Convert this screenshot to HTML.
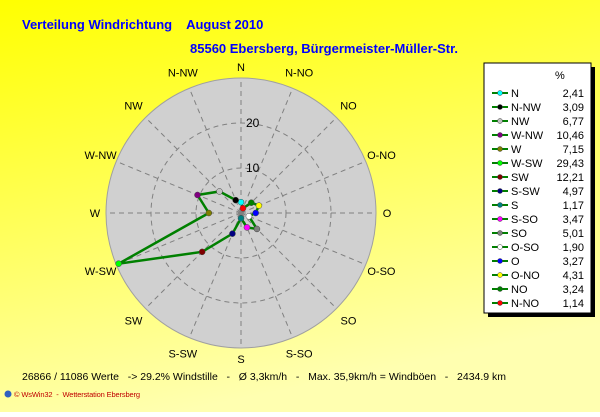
<!DOCTYPE html>
<html><head><meta charset="utf-8"><style>
html,body{margin:0;padding:0}
body{width:600px;height:412px;overflow:hidden;font-family:"Liberation Sans",sans-serif}
</style></head><body>
<svg id="c" width="600" height="412" xmlns="http://www.w3.org/2000/svg">
<defs><linearGradient id="bg" x1="0" y1="0" x2="0.3" y2="1"><stop offset="0" stop-color="#ffff00"/><stop offset="1" stop-color="#ffffb0"/></linearGradient></defs>
<rect width="600" height="412" fill="url(#bg)"/>
<text x="22" y="29" font-size="13" font-weight="bold" fill="#0000ff" xml:space="preserve">Verteilung Windrichtung    August 2010</text>
<text x="190" y="53" font-size="13" font-weight="bold" fill="#0000ff">85560 Ebersberg, Bürgermeister-Müller-Str.</text>
<g id="plot"></g>
<g id="legend">
<rect x="488" y="67" width="107" height="250" fill="#000"/>
<rect x="484" y="63" width="107" height="250" fill="#fff" stroke="#000"/>
<text x="555" y="79" font-size="11" fill="#000">%</text>
</g>
<text x="22" y="380" font-size="10.5" fill="#000" textLength="484" xml:space="preserve">26866 / 11086 Werte   -&gt; 29.2% Windstille   -   Ø 3,3km/h   -   Max. 35,9km/h = Windböen   -   2434.9 km</text>
<circle cx="8" cy="394" r="3.5" fill="#3060c0"/>
<text x="14" y="397" font-size="7.5" fill="#c00000" textLength="126" xml:space="preserve">© WsWin32  -  Wetterstation Ebersberg</text>
</svg>
<script>
const directions=["N","N-NW","NW","W-NW","W","W-SW","SW","S-SW","S","S-SO","SO","O-SO","O","O-NO","NO","N-NO"];
const angles=[0,337.5,315,292.5,270,247.5,225,202.5,180,157.5,135,112.5,90,67.5,45,22.5];
const values=[2.41,3.09,6.77,10.46,7.15,29.43,12.21,4.97,1.17,3.47,5.01,1.90,3.27,4.31,3.24,1.14];
const valueLabels=["2,41","3,09","6,77","10,46","7,15","29,43","12,21","4,97","1,17","3,47","5,01","1,90","3,27","4,31","3,24","1,14"];
const colors=["#00ffff","#000000","#c0c0c0","#800080","#808000","#00ff00","#800000","#000080","#008080","#ff00ff","#808080","#ffffff","#0000ff","#ffff00","#008000","#ff0000"];
const ringTicks=[10,20];
const rMax=30;
const NS="http://www.w3.org/2000/svg";
const cx=241,cy=213,R=135;
function rs(v){return v/rMax*R;}
function pt(a,v){const t=a*Math.PI/180;return [cx+rs(v)*Math.sin(t),cy-rs(v)*Math.cos(t)];}
function mk(tag,attrs,parent){const e=document.createElementNS(NS,tag);for(const k in attrs)e.setAttribute(k,attrs[k]);parent.appendChild(e);return e;}
const plot=document.getElementById('plot');
let e=mk('circle',{cx:cx,cy:cy,r:R,fill:'#d0d0d0',stroke:'#a0a0a0'},plot);


for(let i=0;i<16;i++){const p=pt(i*22.5,rMax);e=mk('line',{x1:cx,y1:cy,x2:p[0],y2:p[1],stroke:'#808080','stroke-dasharray':'5,4'},plot);

}
ringTicks.forEach(t=>{e=mk('circle',{cx:cx,cy:cy,r:rs(t),fill:'none',stroke:'#808080','stroke-dasharray':'5,4'},plot);


e=mk('text',{x:cx+5,y:cy-rs(t)+4,'font-size':12,fill:'#000'},plot);e.textContent=t;

});
directions.forEach((d,i)=>{const a=angles[i];const t=a*Math.PI/180;const r=(a%90===0)?146:152;
const x=cx+r*Math.sin(t),y=cy-r*Math.cos(t)+4;
e=mk('text',{x:x,y:y,'font-size':11,fill:'#000','text-anchor':'middle'},plot);e.textContent=d;

});
const pts=values.map((v,i)=>pt(angles[i],v));
e=mk('polygon',{points:pts.map(p=>p.join(',')).join(' '),fill:'none',stroke:'#008000','stroke-width':2.5},plot);


pts.forEach((p,i)=>{e=mk('circle',{cx:p[0],cy:p[1],r:3,fill:colors[i],stroke:'#404040','stroke-width':0.5},plot);

});
const lg=document.getElementById('legend');
directions.forEach((d,i)=>{const y=93+i*14;
e=mk('line',{x1:492,y1:y,x2:508,y2:y,stroke:'#008000','stroke-width':2},lg);


e=mk('circle',{cx:500,cy:y,r:2.5,fill:colors[i],stroke:'#404040','stroke-width':0.5},lg);


e=mk('text',{x:511,y:y+4,'font-size':11,fill:'#000'},lg);e.textContent=d;


e=mk('text',{x:584,y:y+4,'font-size':11,fill:'#000','text-anchor':'end'},lg);e.textContent=valueLabels[i];

});
</script>
</body></html>
